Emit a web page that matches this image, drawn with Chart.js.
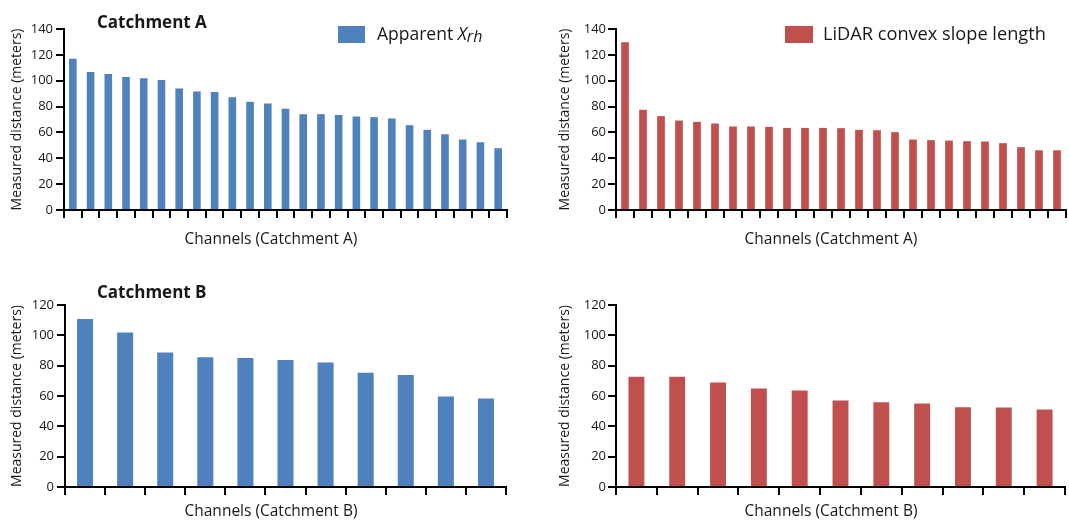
<!DOCTYPE html>
<html>
<head>
<meta charset="utf-8">
<script src="https://cdn.jsdelivr.net/npm/chart.js@4.4.1/dist/chart.umd.min.js"></script>
<style>
  html, body { margin: 0; padding: 0; background: #fff; }
  #wrap { position: relative; width: 1069px; height: 522px; }
  canvas { position: absolute; }
</style>
</head>
<body>
<div id="wrap">
  <canvas id="chartTopLeft" width="534" height="262" style="left:0;top:0"></canvas>
  <canvas id="chartTopRight" width="535" height="262" style="left:534px;top:0"></canvas>
  <canvas id="chartBottomLeft" width="534" height="260" style="left:0;top:262px"></canvas>
  <canvas id="chartBottomRight" width="535" height="260" style="left:534px;top:262px"></canvas>
</div>
<script>
/* --------------------------------------------
   Channel distances, Catchment A and B
--------------------------------------------- */

const channelsA = ["A1", "A2", "A3", "A4", "A5", "A6", "A7", "A8", "A9", "A10", "A11", "A12", "A13",
                   "A14", "A15", "A16", "A17", "A18", "A19", "A20", "A21", "A22", "A23", "A24", "A25"];
const channelsB = ["B1", "B2", "B3", "B4", "B5", "B6", "B7", "B8", "B9", "B10", "B11"];

// Apparent Xrh (meters)
const xrhA = [117, 106.7, 105.1, 102.8, 102, 100.5, 94, 91.7, 91.2, 87.3, 83.7, 82.4, 78.3,
              74.1, 74.1, 73.4, 72.3, 71.8, 70.8, 65.6, 62, 58.6, 54.5, 52.4, 47.8];
const xrhB = [110.7, 101.9, 88.7, 85.6, 85, 83.7, 82.1, 75.3, 73.8, 59.7, 58.3];

// LiDAR convex slope length (meters)
const lidarA = [129.7, 77.5, 72.6, 69.2, 68.2, 66.9, 64.6, 64.6, 64.3, 63.5, 63.5, 63.5, 63.3,
                62, 61.7, 60.2, 54.5, 54, 53.7, 53.2, 53, 51.7, 48.6, 46.2, 46.2];
const lidarB = [72.7, 72.7, 68.9, 64.9, 63.6, 57, 55.9, 55, 52.6, 52.4, 51.1];

const yMaxA = 140;
const yMaxB = 120;
const yStep = 20;

const FONT = '"Open Sans", "Noto Sans", sans-serif';
const INK = "#1a1718";
const BLUE = "#4f81bd";
const RED = "#c0504d";

/* -------------------------
    Headings, legends, x titles
------------------------- */
const panelText = {
  id: "panelText",
  afterDraw(chart, args, opts) {
    const ctx = chart.ctx;
    ctx.save();
    ctx.fillStyle = INK;
    ctx.textBaseline = "middle";

    if (opts.heading) {
      ctx.font = "bold 17px " + FONT;
      ctx.textAlign = "left";
      ctx.fillText(opts.heading.text, opts.heading.x, opts.heading.y);
    }

    if (opts.xTitle) {
      ctx.font = "15.5px " + FONT;
      ctx.textAlign = "center";
      ctx.fillText(opts.xTitle.text, opts.xTitle.x, opts.xTitle.y);
    }

    if (opts.legend) {
      const lg = opts.legend;
      ctx.fillStyle = lg.color;
      ctx.fillRect(lg.x, lg.y, lg.w, 17);
      ctx.fillStyle = INK;
      ctx.textAlign = "left";
      let x = lg.textX;
      lg.parts.forEach(p => {
        ctx.font = p.font;
        ctx.fillText(p.text, x, lg.y + 9 + (p.dy || 0));
        x += ctx.measureText(p.text).width;
      });
    }
    ctx.restore();
  }
};

function makePanel(id, cfg) {
  return new Chart(document.getElementById(id), {
    type: "bar",
    data: {
      labels: cfg.labels,
      datasets: [{
        label: cfg.name,
        data: cfg.values,
        backgroundColor: cfg.color,
        barPercentage: cfg.barPct,
        categoryPercentage: 1
      }]
    },
    options: {
      responsive: false,
      animation: false,
      layout: { padding: { left: 0, right: cfg.padRight, top: cfg.padTop, bottom: 0 } },
      plugins: {
        legend: { display: false },
        tooltip: { enabled: false },
        panelText: cfg.text
      },
      scales: {
        x: {
          offset: true,
          ticks: { display: false },
          grid: { offset: true, drawOnChartArea: false, tickLength: 8, color: "#000", lineWidth: 2 },
          border: { color: "#000", width: 2 },
          afterFit(scale) { scale.height = cfg.xHeight; }
        },
        y: {
          min: 0,
          max: cfg.yMax,
          ticks: { stepSize: yStep, color: INK, padding: cfg.tickPad, font: { family: FONT, size: 13 } },
          grid: { drawOnChartArea: false, tickLength: 8, color: "#000", lineWidth: 2 },
          border: { color: "#000", width: 2 },
          title: {
            display: true,
            text: "Measured distance (meters)",
            color: INK,
            font: { family: FONT, size: 14 },
            padding: { top: cfg.yTitlePad, bottom: 0 }
          },
          afterFit(scale) { scale.width = cfg.yWidth; }
        }
      }
    },
    plugins: [panelText]
  });
}

/* -------------------------
    Top left — Apparent Xrh, Catchment A
------------------------- */
makePanel("chartTopLeft", {
  labels: channelsA, values: xrhA, name: "Apparent Xrh", color: BLUE, barPct: 0.43,
  yMax: yMaxA, padTop: 29, padRight: 27, xHeight: 52, yWidth: 64, tickPad: 3, yTitlePad: 9,
  text: {
    heading: { text: "Catchment A", x: 97, y: 23.5 },
    xTitle: { text: "Channels (Catchment A)", x: 271, y: 240 },
    legend: {
      color: BLUE, x: 338, y: 26, w: 27, textX: 377,
      parts: [
        { text: "Apparent ", font: "17.5px " + FONT },
        { text: "X", font: "italic 17.5px " + FONT },
        { text: "rh", font: "italic 16px " + FONT, dy: 2 }
      ]
    }
  }
});

/* -------------------------
    Top right — LiDAR, Catchment A
------------------------- */
makePanel("chartTopRight", {
  labels: channelsA, values: lidarA, name: "LiDAR convex slope length", color: RED, barPct: 0.43,
  yMax: yMaxA, padTop: 29, padRight: 3, xHeight: 52, yWidth: 82, tickPad: 2, yTitlePad: 23,
  text: {
    xTitle: { text: "Channels (Catchment A)", x: 297, y: 240 },
    legend: {
      color: RED, x: 251, y: 26, w: 28, textX: 289,
      parts: [{ text: "LiDAR convex slope length", font: "18.2px " + FONT }]
    }
  }
});

/* -------------------------
    Bottom left — Apparent Xrh, Catchment B
------------------------- */
makePanel("chartBottomLeft", {
  labels: channelsB, values: xrhB, name: "Apparent Xrh", color: BLUE, barPct: 0.4,
  yMax: yMaxB, padTop: 43, padRight: 28, xHeight: 35, yWidth: 65, tickPad: 3, yTitlePad: 9,
  text: {
    heading: { text: "Catchment B", x: 97, y: 31.5 },
    xTitle: { text: "Channels (Catchment B)", x: 271, y: 250 }
  }
});

/* -------------------------
    Bottom right — LiDAR, Catchment B
------------------------- */
makePanel("chartBottomRight", {
  labels: channelsB, values: lidarB, name: "LiDAR convex slope length", color: RED, barPct: 0.39,
  yMax: yMaxB, padTop: 43, padRight: 4, xHeight: 35, yWidth: 82, tickPad: 2, yTitlePad: 23,
  text: {
    xTitle: { text: "Channels (Catchment B)", x: 297, y: 250 }
  }
});
</script>
</body>
</html>
